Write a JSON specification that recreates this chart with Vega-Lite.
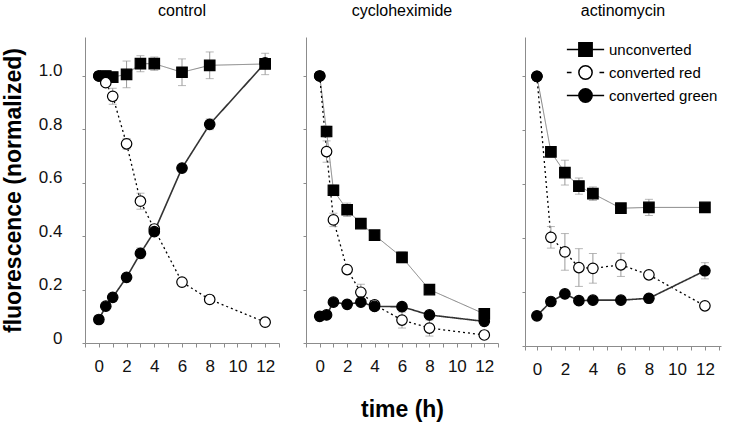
{
  "$schema": "https://vega.github.io/schema/vega-lite/v6.json",
  "padding": {"left": 2, "top": 3, "right": 5, "bottom": 5},
  "spacing": 27,
  "bounds": "flush",
  "data": {"values": [
    {"panel": "control", "series": "unconverted", "t": 0, "v": 1.0},
    {"panel": "control", "series": "unconverted", "t": 0.5, "v": 1.0, "err": 0.02},
    {"panel": "control", "series": "unconverted", "t": 1, "v": 0.996, "err": 0.015},
    {"panel": "control", "series": "unconverted", "t": 2, "v": 1.006, "err": 0.05},
    {"panel": "control", "series": "unconverted", "t": 3, "v": 1.046, "err": 0.03},
    {"panel": "control", "series": "unconverted", "t": 4, "v": 1.046, "err": 0.025},
    {"panel": "control", "series": "unconverted", "t": 6, "v": 1.014, "err": 0.05},
    {"panel": "control", "series": "unconverted", "t": 8, "v": 1.04, "err": 0.05},
    {"panel": "control", "series": "unconverted", "t": 12, "v": 1.045, "err": 0.04},
    {"panel": "control", "series": "converted red", "t": 0, "v": 1.0},
    {"panel": "control", "series": "converted red", "t": 0.5, "v": 0.975},
    {"panel": "control", "series": "converted red", "t": 1, "v": 0.924, "err": 0.03},
    {"panel": "control", "series": "converted red", "t": 2, "v": 0.746, "err": 0.02},
    {"panel": "control", "series": "converted red", "t": 3, "v": 0.531, "err": 0.03},
    {"panel": "control", "series": "converted red", "t": 4, "v": 0.427, "err": 0.015},
    {"panel": "control", "series": "converted red", "t": 6, "v": 0.228},
    {"panel": "control", "series": "converted red", "t": 8, "v": 0.163},
    {"panel": "control", "series": "converted red", "t": 12, "v": 0.078},
    {"panel": "control", "series": "converted green", "t": 0, "v": 0.088},
    {"panel": "control", "series": "converted green", "t": 0.5, "v": 0.138},
    {"panel": "control", "series": "converted green", "t": 1, "v": 0.171},
    {"panel": "control", "series": "converted green", "t": 2, "v": 0.246},
    {"panel": "control", "series": "converted green", "t": 3, "v": 0.336, "err": 0.02},
    {"panel": "control", "series": "converted green", "t": 4, "v": 0.417, "err": 0.01},
    {"panel": "control", "series": "converted green", "t": 6, "v": 0.655, "err": 0.01},
    {"panel": "control", "series": "converted green", "t": 8, "v": 0.819, "err": 0.02},
    {"panel": "control", "series": "converted green", "t": 12, "v": 1.049},
    {"panel": "cycloheximide", "series": "unconverted", "t": 0, "v": 1.0},
    {"panel": "cycloheximide", "series": "unconverted", "t": 0.5, "v": 0.792, "err": 0.02},
    {"panel": "cycloheximide", "series": "unconverted", "t": 1, "v": 0.572, "err": 0.02},
    {"panel": "cycloheximide", "series": "unconverted", "t": 2, "v": 0.499, "err": 0.025},
    {"panel": "cycloheximide", "series": "unconverted", "t": 3, "v": 0.447, "err": 0.015},
    {"panel": "cycloheximide", "series": "unconverted", "t": 4, "v": 0.404},
    {"panel": "cycloheximide", "series": "unconverted", "t": 6, "v": 0.321, "err": 0.02},
    {"panel": "cycloheximide", "series": "unconverted", "t": 8, "v": 0.2, "err": 0.01},
    {"panel": "cycloheximide", "series": "unconverted", "t": 12, "v": 0.109, "err": 0.02},
    {"panel": "cycloheximide", "series": "converted red", "t": 0, "v": 1.0},
    {"panel": "cycloheximide", "series": "converted red", "t": 0.5, "v": 0.717, "err": 0.04},
    {"panel": "cycloheximide", "series": "converted red", "t": 1, "v": 0.461, "err": 0.025},
    {"panel": "cycloheximide", "series": "converted red", "t": 2, "v": 0.275, "err": 0.01},
    {"panel": "cycloheximide", "series": "converted red", "t": 3, "v": 0.19, "err": 0.03},
    {"panel": "cycloheximide", "series": "converted red", "t": 4, "v": 0.143},
    {"panel": "cycloheximide", "series": "converted red", "t": 6, "v": 0.086, "err": 0.03},
    {"panel": "cycloheximide", "series": "converted red", "t": 8, "v": 0.056, "err": 0.03},
    {"panel": "cycloheximide", "series": "converted red", "t": 12, "v": 0.03},
    {"panel": "cycloheximide", "series": "converted green", "t": 0, "v": 0.1},
    {"panel": "cycloheximide", "series": "converted green", "t": 0.5, "v": 0.105},
    {"panel": "cycloheximide", "series": "converted green", "t": 1, "v": 0.153},
    {"panel": "cycloheximide", "series": "converted green", "t": 2, "v": 0.145},
    {"panel": "cycloheximide", "series": "converted green", "t": 3, "v": 0.153},
    {"panel": "cycloheximide", "series": "converted green", "t": 4, "v": 0.137},
    {"panel": "cycloheximide", "series": "converted green", "t": 6, "v": 0.136},
    {"panel": "cycloheximide", "series": "converted green", "t": 8, "v": 0.105},
    {"panel": "cycloheximide", "series": "converted green", "t": 12, "v": 0.081},
    {"panel": "actinomycin", "series": "unconverted", "t": 0, "v": 1.0},
    {"panel": "actinomycin", "series": "unconverted", "t": 1, "v": 0.72, "err": 0.02},
    {"panel": "actinomycin", "series": "unconverted", "t": 2, "v": 0.643, "err": 0.046},
    {"panel": "actinomycin", "series": "unconverted", "t": 3, "v": 0.593, "err": 0.03},
    {"panel": "actinomycin", "series": "unconverted", "t": 4, "v": 0.565, "err": 0.025},
    {"panel": "actinomycin", "series": "unconverted", "t": 6, "v": 0.511, "err": 0.015},
    {"panel": "actinomycin", "series": "unconverted", "t": 8, "v": 0.514, "err": 0.03},
    {"panel": "actinomycin", "series": "unconverted", "t": 12, "v": 0.514},
    {"panel": "actinomycin", "series": "converted red", "t": 0, "v": 1.0},
    {"panel": "actinomycin", "series": "converted red", "t": 1, "v": 0.403, "err": 0.04},
    {"panel": "actinomycin", "series": "converted red", "t": 2, "v": 0.349, "err": 0.068},
    {"panel": "actinomycin", "series": "converted red", "t": 3, "v": 0.291, "err": 0.07},
    {"panel": "actinomycin", "series": "converted red", "t": 4, "v": 0.288, "err": 0.055},
    {"panel": "actinomycin", "series": "converted red", "t": 6, "v": 0.301, "err": 0.043},
    {"panel": "actinomycin", "series": "converted red", "t": 8, "v": 0.264},
    {"panel": "actinomycin", "series": "converted red", "t": 12, "v": 0.149},
    {"panel": "actinomycin", "series": "converted green", "t": 0, "v": 0.112},
    {"panel": "actinomycin", "series": "converted green", "t": 1, "v": 0.165},
    {"panel": "actinomycin", "series": "converted green", "t": 2, "v": 0.193},
    {"panel": "actinomycin", "series": "converted green", "t": 3, "v": 0.168},
    {"panel": "actinomycin", "series": "converted green", "t": 4, "v": 0.17},
    {"panel": "actinomycin", "series": "converted green", "t": 6, "v": 0.17},
    {"panel": "actinomycin", "series": "converted green", "t": 8, "v": 0.177},
    {"panel": "actinomycin", "series": "converted green", "t": 12, "v": 0.279, "err": 0.03}
  ]},
  "hconcat": [
    {
      "width": 194, "height": 306,
      "title": {"text": "control"},
      "transform": [{"filter": "datum.panel == 'control'"}],
      "encoding": {
        "x": {"field": "t", "type": "quantitative", "scale": {"domain": [-1, 13], "nice": false, "zero": false},
              "axis": {"values": [-1,0,1,2,3,4,5,6,7,8,9,10,11,12,13], "labelExpr": "datum.value >= 0 && datum.value % 2 == 0 ? datum.value : ''", "title": null}},
        "y": {"field": "v", "type": "quantitative", "scale": {"domain": [0, 1.146], "nice": false, "zero": false},
              "axis": {"values": [0, 0.2, 0.4, 0.6, 0.8, 1.0], "labelExpr": "datum.value == 0 ? '0' : format(datum.value, '.1f')", "title": "fluorescence (normalized)", "titleFontSize": 23, "titleFontWeight": "bold", "titlePadding": 13, "titleColor": "black"}}
      },
      "layer": [
        {"mark": {"type": "line"},
         "encoding": {
           "stroke": {"field": "series", "type": "nominal", "scale": {"domain": ["unconverted", "converted red", "converted green"], "range": ["#7f7f7f", "#000000", "#333333"]}, "legend": null},
           "strokeDash": {"field": "series", "type": "nominal", "scale": {"domain": ["unconverted", "converted red", "converted green"], "range": [[1, 0], [2, 3], [1, 0]]}, "legend": null},
           "strokeWidth": {"field": "series", "type": "ordinal", "scale": {"domain": ["unconverted", "converted red", "converted green"], "range": [1, 1.6, 1.2]}, "legend": null}
         }},
        {"transform": [{"filter": "datum.err > 0"}],
         "mark": {"type": "errorbar", "ticks": {"size": 8, "color": "#999999"}, "rule": {"color": "#999999"}},
         "encoding": {"yError": {"field": "err"}}},
        {"mark": {"type": "point", "size": 110, "stroke": "black", "strokeWidth": 1.2, "opacity": 1},
         "encoding": {
           "shape": {"condition": {"test": "datum.t == 0", "value": "circle"}, "field": "series", "type": "nominal", "scale": {"domain": ["unconverted", "converted red", "converted green"], "range": ["square", "circle", "circle"]}, "legend": null},
           "fill": {"condition": {"test": "datum.t == 0", "value": "black"}, "field": "series", "type": "nominal", "scale": {"domain": ["unconverted", "converted red", "converted green"], "range": ["black", "white", "black"]}, "legend": null}
         }}
      ]
    },
    {
      "width": 192, "height": 306,
      "title": {"text": "cycloheximide"},
      "transform": [{"filter": "datum.panel == 'cycloheximide'"}],
      "encoding": {
        "x": {"field": "t", "type": "quantitative", "scale": {"domain": [-1, 13], "nice": false, "zero": false},
              "axis": {"values": [-1,0,1,2,3,4,5,6,7,8,9,10,11,12,13], "labelExpr": "datum.value >= 0 && datum.value % 2 == 0 ? datum.value : ''", "title": "time (h)", "titleFontSize": 23, "titleFontWeight": "bold", "titlePadding": 24, "titleColor": "black"}},
        "y": {"field": "v", "type": "quantitative", "scale": {"domain": [0, 1.146], "nice": false, "zero": false},
              "axis": {"values": [0, 0.2, 0.4, 0.6, 0.8, 1.0], "labels": false, "title": null}}
      },
      "layer": [
        {"mark": {"type": "line"},
         "encoding": {
           "stroke": {"field": "series", "type": "nominal", "scale": {"domain": ["unconverted", "converted red", "converted green"], "range": ["#7f7f7f", "#000000", "#000000"]}, "legend": null},
           "strokeDash": {"field": "series", "type": "nominal", "scale": {"domain": ["unconverted", "converted red", "converted green"], "range": [[1, 0], [2, 3], [1, 0]]}, "legend": null},
           "strokeWidth": {"field": "series", "type": "ordinal", "scale": {"domain": ["unconverted", "converted red", "converted green"], "range": [1, 1.6, 1.5]}, "legend": null}
         }},
        {"transform": [{"filter": "datum.err > 0"}],
         "mark": {"type": "errorbar", "ticks": {"size": 8, "color": "#999999"}, "rule": {"color": "#999999"}},
         "encoding": {"yError": {"field": "err"}}},
        {"mark": {"type": "point", "size": 110, "stroke": "black", "strokeWidth": 1.2, "opacity": 1},
         "encoding": {
           "shape": {"condition": {"test": "datum.t == 0", "value": "circle"}, "field": "series", "type": "nominal", "scale": {"domain": ["unconverted", "converted red", "converted green"], "range": ["square", "circle", "circle"]}, "legend": null},
           "fill": {"condition": {"test": "datum.t == 0", "value": "black"}, "field": "series", "type": "nominal", "scale": {"domain": ["unconverted", "converted red", "converted green"], "range": ["black", "white", "black"]}, "legend": null}
         }}
      ]
    },
    {
      "width": 196, "height": 309,
      "title": {"text": "actinomycin"},
      "transform": [{"filter": "datum.panel == 'actinomycin'"}],
      "encoding": {
        "x": {"field": "t", "type": "quantitative", "scale": {"domain": [-0.85, 13.15], "nice": false, "zero": false},
              "axis": {"values": [-0.85,0,1,2,3,4,5,6,7,8,9,10,11,12,13], "labelExpr": "datum.value >= 0 && datum.value % 2 == 0 ? datum.value : ''", "title": null}},
        "y": {"field": "v", "type": "quantitative", "scale": {"domain": [0, 1.146], "nice": false, "zero": false},
              "axis": {"values": [0, 0.2, 0.4, 0.6, 0.8, 1.0], "labels": false, "title": null}}
      },
      "resolve": {"scale": {"shape": "independent", "fill": "independent"}},
      "layer": [
        {"mark": {"type": "line"},
         "encoding": {
           "stroke": {"field": "series", "type": "nominal", "scale": {"domain": ["unconverted", "converted red", "converted green"], "range": ["#7f7f7f", "#000000", "#000000"]}, "legend": null},
           "strokeDash": {"field": "series", "type": "nominal", "scale": {"domain": ["unconverted", "converted red", "converted green"], "range": [[1, 0], [2, 3], [1, 0]]}, "legend": null},
           "strokeWidth": {"field": "series", "type": "ordinal", "scale": {"domain": ["unconverted", "converted red", "converted green"], "range": [1, 1.6, 1.5]}, "legend": null}
         }},
        {"transform": [{"filter": "datum.err > 0"}],
         "mark": {"type": "errorbar", "ticks": {"size": 8, "color": "#999999"}, "rule": {"color": "#999999"}},
         "encoding": {"yError": {"field": "err"}}},
        {"mark": {"type": "point", "size": 110, "stroke": "black", "strokeWidth": 1.2, "opacity": 1},
         "encoding": {
           "shape": {"condition": {"test": "datum.t == 0", "value": "circle"}, "field": "series", "type": "nominal", "scale": {"domain": ["unconverted", "converted red", "converted green"], "range": ["square", "circle", "circle"]}, "legend": null},
           "fill": {"condition": {"test": "datum.t == 0", "value": "black"}, "field": "series", "type": "nominal", "scale": {"domain": ["unconverted", "converted red", "converted green"], "range": ["black", "white", "black"]}, "legend": null}
         }},
        {"transform": [{"filter": "datum.t < -100"}],
         "mark": {"type": "point", "size": 110, "filled": true, "stroke": "black", "strokeWidth": 1.5},
         "encoding": {
           "shape": {"field": "series", "type": "nominal",
                     "scale": {"domain": ["unconverted", "converted red", "converted green"],
                               "range": ["M-2.8,0L-1,0M1,0L2.8,0M-1,-1L1,-1L1,1L-1,1Z", "M-2.8,0L-2.1,0M2.1,0L2.8,0M1,0A1,1,0,1,1,-1,0A1,1,0,1,1,1,0Z", "M-2.8,0L-1,0M1,0L2.8,0M1,0A1,1,0,1,1,-1,0A1,1,0,1,1,1,0Z"]},
                     "legend": {"title": null, "orient": "none", "legendX": 53, "legendY": 5, "labelFontSize": 15, "labelOffset": 16, "symbolSize": 177, "symbolStrokeWidth": 1.5, "symbolStrokeColor": "black", "symbolFillColor": "black", "symbolOpacity": 1, "rowPadding": 2, "padding": 0, "labelColor": "black"}},
           "fill": {"field": "series", "type": "nominal",
                    "scale": {"domain": ["unconverted", "converted red", "converted green"], "range": ["black", "white", "black"]},
                    "legend": {"title": null, "orient": "none", "legendX": 53, "legendY": 5, "labelFontSize": 15, "labelOffset": 16, "symbolSize": 177, "symbolStrokeWidth": 1.5, "symbolStrokeColor": "black", "symbolFillColor": "black", "symbolOpacity": 1, "rowPadding": 2, "padding": 0, "labelColor": "black"}}
         }}
      ]
    }
  ],
  "config": {
    "font": "Liberation Sans",
    "view": {"stroke": null},
    "title": {"fontSize": 16, "fontWeight": "normal", "color": "black", "anchor": "middle", "baseline": "alphabetic", "offset": 18},
    "axis": {"grid": false, "domainColor": "#8c8c8c", "tickColor": "#8c8c8c", "labelColor": "#111111", "labelFontSize": 17, "labelFont": "Liberation Sans", "titleFont": "Liberation Sans"},
    "axisX": {"tickSize": 4, "labelPadding": 11, "labelFlush": false, "labelOverlap": false},
    "axisY": {"tickSize": 3, "labelPadding": 20, "labelBaseline": "alphabetic"}
  }
}
